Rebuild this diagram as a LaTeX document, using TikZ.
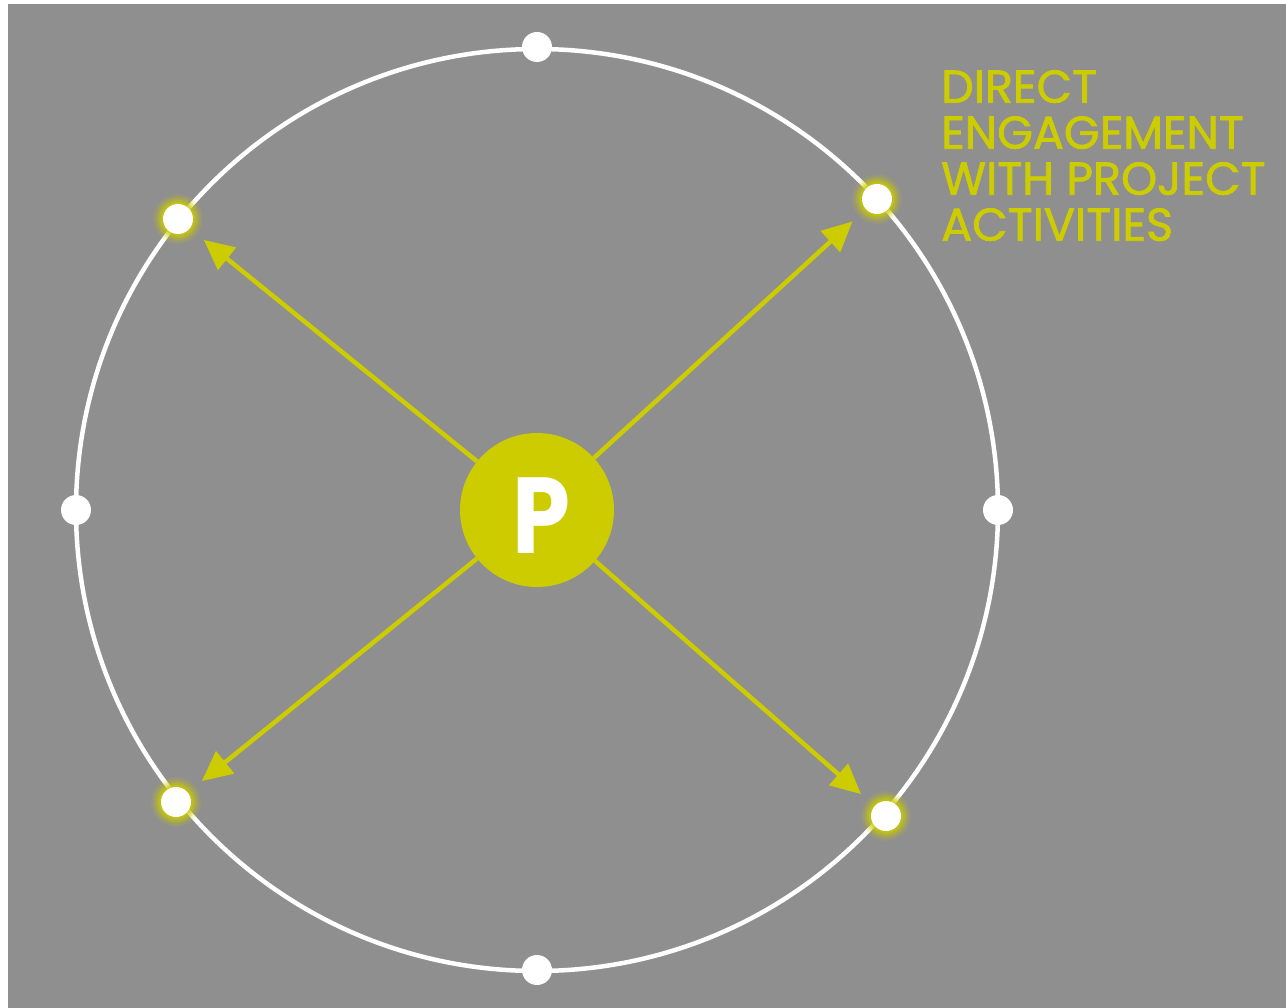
\documentclass[tikz,border=0pt]{standalone}
\usepackage{fontspec}
\setmainfont{Poppins}
\newfontfamily\lblfont{Poppins}[FakeBold=1.6]
\usetikzlibrary{arrows.meta}
\definecolor{bg}{HTML}{8F8F8F}
\definecolor{yel}{HTML}{CCCC00}
\tikzset{
  dot/.style={circle,fill=white,inner sep=0pt,minimum size=30pt},
  glowdot/.style={dot},
  arr/.style={draw=yel,line width=4.5pt,-{Triangle[length=30pt,width=28pt]},shorten >=18pt},
}
\newcommand{\glow}[1]{%
  \foreach \r/\o in {25/0.10,23/0.15,21/0.25,19/0.35,17/0.5}{\fill[yel,opacity=\o] (#1) circle (\r pt);}}
\begin{document}
\begin{tikzpicture}[x=1pt,y=-1pt]
\useasboundingbox (0,0) rectangle (1286,1008);
\fill[bg] (8,4) rectangle (1286,1008);
\coordinate (c) at (537,510);
\draw[white,line width=4.5pt] (c) circle (461pt);
% glows
\glow{178,219}\glow{877,199}\glow{176,802}\glow{886,816}
\node[dot] (top) at (537,47) {};
\node[dot] (bot) at (537,970) {};
\node[dot] (lft) at (76,510) {};
\node[dot] (rgt) at (998,510) {};
\node[glowdot] (ul) at (178,219) {};
\node[glowdot] (ur) at (877,199) {};
\node[glowdot] (ll) at (176,802) {};
\node[glowdot] (lr) at (886,816) {};
\node[circle,fill=yel,inner sep=0pt,minimum size=154pt] (P) at (c) {};
\node[text=white,xscale=0.86,font=\fontsize{108}{108}\selectfont\bfseries] (Pl) at (541,516) {P};
\draw[arr] (P) -- (ul);
\draw[arr] (P) -- (ur);
\draw[arr] (P) -- (ll);
\draw[arr] (P) -- (lr);
\node[anchor=north west,text=yel,align=left,inner sep=0pt,
      font=\lblfont\fontsize{46}{46}\selectfont] (lbl) at (941,70)
  {DIRECT\\ENGAGEMENT\\WITH PROJECT\\ACTIVITIES};
\end{tikzpicture}
\end{document}
